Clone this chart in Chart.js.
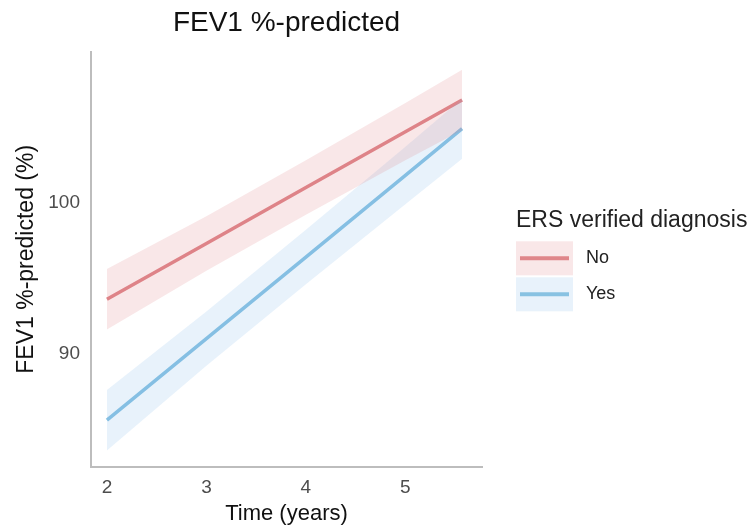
<!DOCTYPE html>
<html>
<head>
<meta charset="utf-8">
<title>FEV1 %-predicted</title>
<script src="https://cdn.jsdelivr.net/npm/chart.js@4"></script>
<style>
  html, body { margin: 0; padding: 0; background: #fff; }
  #wrap { width: 753px; height: 527px; }
</style>
</head>
<body>
<div id="wrap"><canvas id="fevChart" width="753" height="527"></canvas></div>
<script>
// time points (years)
const timePoints = [2, 3, 4, 5, 5.57];

// ERS verified diagnosis: No
const noMean  = [93.6, 97.3, 101.0, 104.7, 106.8];
const noUpper = [95.6, 99.1, 102.8, 106.6, 108.8];
const noLower = [91.6, 95.5, 99.2, 102.8, 104.8];

// ERS verified diagnosis: Yes
const yesMean  = [85.6, 91.0, 96.4, 101.8, 104.9];
const yesUpper = [87.6, 92.8, 98.2, 103.7, 106.9];
const yesLower = [83.6, 89.2, 94.6, 99.9, 102.9];

const groupLabels = ['No', 'Yes'];
const xTicks = [2, 3, 4, 5];
const yTicks = [90, 100];

const FONT = "'Liberation Sans', Arial, Helvetica, sans-serif";
const lineColors = ['#df868a', '#88c2e2'];
const bandColors = ['rgba(220, 120, 130, 0.18)', 'rgba(120, 180, 230, 0.17)'];

function toPoints(ys) {
    return timePoints.map((x, i) => ({ x: x, y: ys[i] }));
}

function bandEdge(ys, fill, color) {
    return {
        data: toPoints(ys),
        borderWidth: 0,
        pointRadius: 0,
        backgroundColor: color,
        fill: fill
    };
}

// simple legend with a shaded key behind each line, like the ribbon plot
const bandLegend = {
    id: 'bandLegend',
    afterDraw(chart) {
        const ctx = chart.ctx;
        const area = chart.chartArea;
        const left = area.right + 34;
        const top = (area.top + area.bottom) / 2 - 48;
        ctx.save();
        ctx.fillStyle = '#222';
        ctx.font = '23px ' + FONT;
        ctx.textBaseline = 'alphabetic';
        ctx.fillText('ERS verified diagnosis', left, top + 16);
        groupLabels.forEach((label, i) => {
            const boxTop = top + 30 + i * 36;
            ctx.fillStyle = bandColors[i];
            ctx.fillRect(left, boxTop, 57, 34);
            ctx.strokeStyle = lineColors[i];
            ctx.lineWidth = 4;
            ctx.beginPath();
            ctx.moveTo(left + 4, boxTop + 17);
            ctx.lineTo(left + 53, boxTop + 17);
            ctx.stroke();
            ctx.fillStyle = '#222';
            ctx.font = '18px ' + FONT;
            ctx.textBaseline = 'middle';
            ctx.fillText(label, left + 70, boxTop + 17);
        });
        ctx.restore();
    }
};

const ctx = document.getElementById('fevChart').getContext('2d');
new Chart(ctx, {
    type: 'line',
    data: {
        datasets: [
            bandEdge(noLower, false, bandColors[0]),
            bandEdge(noUpper, '-1', bandColors[0]),
            bandEdge(yesLower, false, bandColors[1]),
            bandEdge(yesUpper, '-1', bandColors[1]),
            {
                label: groupLabels[0],
                data: toPoints(noMean),
                borderColor: lineColors[0],
                borderWidth: 3.5,
                pointRadius: 0,
                fill: false
            },
            {
                label: groupLabels[1],
                data: toPoints(yesMean),
                borderColor: lineColors[1],
                borderWidth: 3.5,
                pointRadius: 0,
                fill: false
            }
        ]
    },
    options: {
        responsive: false,
        animation: false,
        layout: {
            padding: { left: 8, right: 271, top: 0, bottom: 0 }
        },
        plugins: {
            legend: { display: false },
            tooltip: { enabled: false },
            title: {
                display: true,
                text: 'FEV1 %-predicted',
                fullSize: false,
                color: '#111',
                font: { family: FONT, size: 28, weight: 'normal' },
                padding: { top: 6.5, bottom: 11.5 }
            }
        },
        scales: {
            x: {
                type: 'linear',
                min: 1.84,
                max: 5.77,
                afterBuildTicks: (scale) => { scale.ticks = xTicks.map(v => ({ value: v })); },
                afterFit: (scale) => { scale.height = 60; },
                grid: { display: false, drawTicks: false },
                border: { display: true, color: '#bdbdbd', width: 2 },
                ticks: {
                    color: '#4d4d4d',
                    font: { family: FONT, size: 19 },
                    padding: 9
                },
                title: {
                    display: true,
                    text: 'Time (years)',
                    color: '#111',
                    font: { family: FONT, size: 22, lineHeight: 1 },
                    padding: { top: 4, bottom: 2 }
                }
            },
            y: {
                min: 82.5,
                max: 110,
                afterBuildTicks: (scale) => { scale.ticks = yTicks.map(v => ({ value: v })); },
                afterFit: (scale) => { scale.width = 83; },
                grid: { display: false, drawTicks: false },
                border: { display: true, color: '#bdbdbd', width: 2 },
                ticks: {
                    color: '#4d4d4d',
                    font: { family: FONT, size: 19 },
                    padding: 11
                },
                title: {
                    display: true,
                    text: 'FEV1 %-predicted (%)',
                    color: '#111',
                    font: { family: FONT, size: 23 },
                    padding: { top: 5, bottom: 6 }
                }
            }
        }
    },
    plugins: [bandLegend]
});
</script>
</body>
</html>
